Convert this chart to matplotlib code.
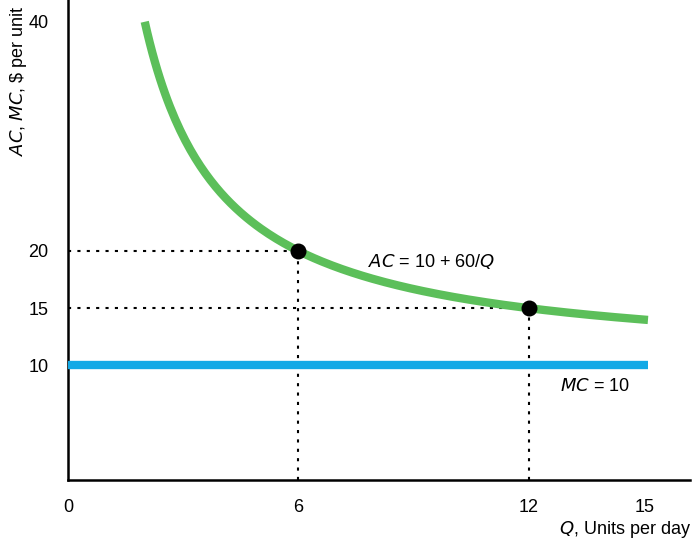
import numpy as np
import matplotlib
matplotlib.use("Agg")
import matplotlib.pyplot as plt

plt.rcParams['font.family'] = ['Liberation Sans', 'DejaVu Sans']

# AC curve as labelled on the chart: AC = 10 + 60/Q
fixed_cost = 60
mc_value = 10
q_start, q_end = 2.0, 15.1
marked_q = [6, 12]
x_ticks = [0, 6, 12, 15]
y_ticks = [10, 15, 20, 40]

q = np.linspace(q_start, q_end, 200)
ac = mc_value + fixed_cost / q
marked_ac = [mc_value + fixed_cost / v for v in marked_q]

fig = plt.figure(figsize=(6.93, 5.43), dpi=100)
ax = fig.add_axes([0.098, 0.116, 0.898, 0.884])

ax.plot(q, ac, color='#5cbf5a', lw=6, solid_capstyle='butt', zorder=3)
ax.plot([0, q_end], [mc_value, mc_value], color='#12a9e6', lw=6, solid_capstyle='butt', zorder=3)

for mq, ma in zip(marked_q, marked_ac):
    ax.plot([0, mq], [ma, ma], ls=(0, (1.5, 3)), color='black', lw=1.5, zorder=2)
    ax.plot([mq, mq], [0, ma], ls=(0, (1.5, 3)), color='black', lw=1.5, zorder=2)
ax.scatter(marked_q, marked_ac, s=110, color='black', zorder=4)

ax.text(7.8, 18.6, r'$AC$ = 10 + 60/$Q$', fontsize=13)
ax.text(12.8, 7.8, r'$MC$ = 10', fontsize=13)

ax.set_xlim(0, 16.2)
ax.set_ylim(0, 41.9)
ax.set_xticks(x_ticks)
ax.set_yticks(y_ticks)
ax.tick_params(length=0, labelsize=13, pad=14)
for s in ['top', 'right']:
    ax.spines[s].set_visible(False)
ax.spines['left'].set_linewidth(1.8)
ax.spines['bottom'].set_linewidth(1.8)

fig.text(0.012, 0.99, r'$AC$, $MC$, \$ per unit', rotation=90, ha='left', va='top', fontsize=13)
fig.text(0.997, 0.005, r'$Q$, Units per day', ha='right', va='bottom', fontsize=13)

fig.savefig('out.png', dpi=100)
